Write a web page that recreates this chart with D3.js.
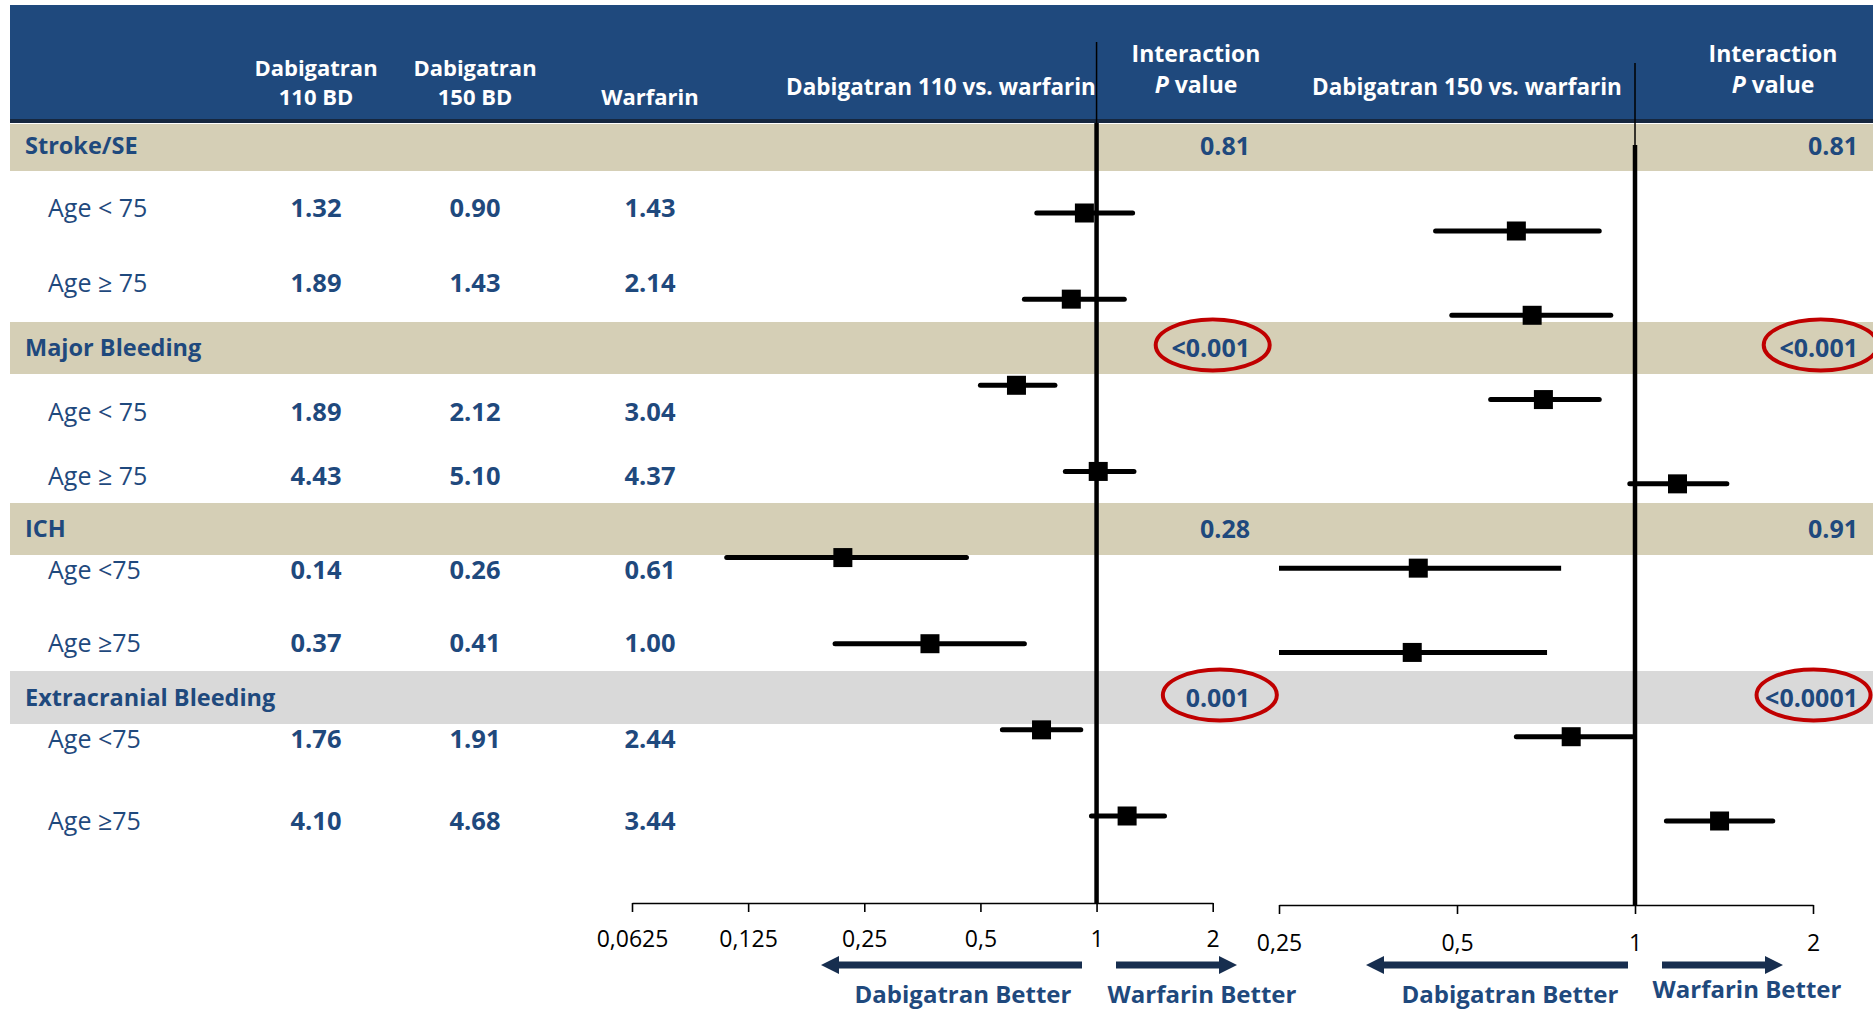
<!DOCTYPE html>
<html>
<head>
<meta charset="utf-8">
<script src="https://cdn.jsdelivr.net/npm/d3@7"></script>
<style>
  html, body { margin: 0; padding: 0; background: #ffffff; }
  svg { display: block; font-family: "Open Sans", "Noto Sans", sans-serif; }
</style>
</head>
<body>
<svg id="chart" width="1873" height="1011"></svg>
<script>
// ---- Data ----------------------------------------------------------------
const groups = ["Stroke/SE", "Major Bleeding", "ICH", "Extracranial Bleeding"];
const groupShade = ["tan", "tan", "tan", "grey"];
const pValues110 = ["0.81", "<0.001", "0.28", "0.001"];
const pValues150 = ["0.81", "<0.001", "0.91", "<0.0001"];
const flagged110 = [false, true, false, true];
const flagged150 = [false, true, false, true];

const subgroups = ["Age < 75", "Age \u2265 75", "Age < 75", "Age \u2265 75",
                   "Age <75", "Age \u226575", "Age <75", "Age \u226575"];
const rowGroup = [0, 0, 1, 1, 2, 2, 3, 3];

// event rates (%/year)
const rateDabi110 = ["1.32", "1.89", "1.89", "4.43", "0.14", "0.37", "1.76", "4.10"];
const rateDabi150 = ["0.90", "1.43", "2.12", "5.10", "0.26", "0.41", "1.91", "4.68"];
const rateWarfarin = ["1.43", "2.14", "3.04", "4.37", "0.61", "1.00", "2.44", "3.44"];

// hazard ratios with 95% CI
const hr110 = [0.93, 0.86, 0.62, 1.01, 0.22, 0.37, 0.72, 1.20];
const lo110 = [0.70, 0.65, 0.50, 0.83, 0.11, 0.21, 0.57, 0.97];
const hi110 = [1.24, 1.18, 0.78, 1.25, 0.46, 0.65, 0.91, 1.50];
const hr150 = [0.63, 0.67, 0.70, 1.18, 0.43, 0.42, 0.78, 1.39];
const lo150 = [0.46, 0.49, 0.57, 0.98, 0.25, 0.25, 0.63, 1.13];
const hi150 = [0.87, 0.91, 0.87, 1.43, 0.75, 0.71, 0.99, 1.71];

const ticks110 = [0.0625, 0.125, 0.25, 0.5, 1, 2];
const tickLabels110 = ["0,0625", "0,125", "0,25", "0,5", "1", "2"];
const ticks150 = [0.25, 0.5, 1, 2];
const tickLabels150 = ["0,25", "0,5", "1", "2"];

// ---- Layout --------------------------------------------------------------
const W = 1873;
const BLUE = "#1F497D";
const TEXT = "#1F497D";
const shadeColor = { tan: "#D5CFB6", grey: "#D9D9D9" };
const bandTop = [124, 322, 503, 671];
const bandBottom = [171, 374, 555, 724];
const groupLabelY = [145, 347, 528, 697];
const rowTextY = [207, 282, 411, 475, 569, 642, 738, 820];
const colX = [316, 475, 650];

const svg = d3.select("#chart");

// header
svg.append("rect").attr("x", 10).attr("y", 5).attr("width", W - 10).attr("height", 116).attr("fill", BLUE);
svg.append("rect").attr("x", 10).attr("y", 119).attr("width", W - 10).attr("height", 4).attr("fill", "#16273F");

// group bands
svg.append("g").selectAll("rect").data(groups).join("rect")
  .attr("x", 10).attr("y", (d, i) => bandTop[i])
  .attr("width", W - 10).attr("height", (d, i) => bandBottom[i] - bandTop[i])
  .attr("fill", (d, i) => shadeColor[groupShade[i]]);

// header text
const head = svg.append("g").attr("fill", "#ffffff").attr("font-weight", 700)
  .attr("font-size", 22).attr("text-anchor", "middle").attr("dominant-baseline", "central");
head.append("text").attr("x", colX[0]).attr("y", 67).text("Dabigatran");
head.append("text").attr("x", colX[0]).attr("y", 96).text("110 BD");
head.append("text").attr("x", colX[1]).attr("y", 67).text("Dabigatran");
head.append("text").attr("x", colX[1]).attr("y", 96).text("150 BD");
head.append("text").attr("x", colX[2]).attr("y", 96).text("Warfarin");
head.append("text").attr("x", 941).attr("y", 86).attr("font-size", 22.5).text("Dabigatran 110 vs. warfarin");
head.append("text").attr("x", 1467).attr("y", 86).attr("font-size", 22.5).text("Dabigatran 150 vs. warfarin");
[1196, 1773].forEach(cx => {
  head.append("text").attr("x", cx).attr("y", 53).attr("font-size", 23).text("Interaction");
  const t = head.append("text").attr("x", cx).attr("y", 84).attr("font-size", 23);
  t.append("tspan").attr("font-style", "italic").text("P");
  t.append("tspan").text(" value");
});

// group labels
svg.append("g").selectAll("text").data(groups).join("text")
  .attr("x", 25).attr("y", (d, i) => groupLabelY[i])
  .attr("dominant-baseline", "central").attr("font-size", 23.5).attr("font-weight", 700)
  .attr("fill", TEXT).text(d => d);

// subgroup rows
const rows = svg.append("g").attr("fill", TEXT).attr("font-size", 25).attr("dominant-baseline", "central");
rows.selectAll("text.lab").data(subgroups).join("text").attr("class", "lab")
  .attr("x", 48).attr("y", (d, i) => rowTextY[i]).text(d => d);
[rateDabi110, rateDabi150, rateWarfarin].forEach((col, c) => {
  rows.selectAll("text.c" + c).data(col).join("text").attr("class", "c" + c)
    .attr("x", colX[c]).attr("y", (d, i) => rowTextY[i])
    .attr("text-anchor", "middle").attr("font-weight", 700).attr("font-size", 25.5).text(d => d);
});

// interaction p values
function pColumn(values, flags, xRight) {
  const g = svg.append("g");
  values.forEach((v, i) => {
    const t = g.append("text").attr("x", xRight).attr("y", groupLabelY[i])
      .attr("text-anchor", "end").attr("dominant-baseline", "central")
      .attr("font-size", 25).attr("font-weight", 700).attr("fill", TEXT).text(v);
    if (flags[i]) {
      const b = t.node().getBBox();
      g.append("ellipse").attr("cx", b.x + b.width / 2 + 2).attr("cy", groupLabelY[i] - 2)
        .attr("rx", Math.max(57, b.width / 2 + 10)).attr("ry", 25.5)
        .attr("fill", "none").attr("stroke", "#C00000").attr("stroke-width", 4);
    }
  });
}
pColumn(pValues110, flagged110, 1250);
pColumn(pValues150, flagged150, 1858);

// ---- forest panels --------------------------------------------------------
function panel(opts) {
  const x = d3.scaleLog().base(2).domain(opts.domain).range(opts.range);
  const y = d3.scalePoint().domain(d3.range(8)).range(opts.rowRange);
  const g = svg.append("g");

  // axis
  const axis = d3.axisBottom(x).tickValues(opts.ticks)
    .tickFormat((d, i) => opts.tickLabels[i]).tickSize(9).tickSizeOuter(0);
  const ag = g.append("g").attr("transform", `translate(0,${opts.axisY})`).call(axis);
  ag.select(".domain").attr("stroke", "#000").attr("stroke-width", 1.6);
  ag.selectAll(".tick line").attr("stroke", "#000").attr("stroke-width", 1.6);
  ag.selectAll(".tick text").attr("font-family", "'Open Sans', sans-serif").attr("font-size", 23)
    .attr("fill", "#000").attr("y", opts.tickLabelDy).attr("dy", null).attr("dominant-baseline", "central");

  // line of no effect
  const x1 = x(1);
  g.append("line").attr("x1", x1).attr("x2", x1).attr("y1", opts.thinTop).attr("y2", opts.thickTop)
    .attr("stroke", "#000").attr("stroke-width", 1.5);
  g.append("line").attr("x1", x1).attr("x2", x1).attr("y1", opts.thickTop).attr("y2", opts.axisY)
    .attr("stroke", "#000").attr("stroke-width", 4.5);

  // confidence intervals
  const clampLo = v => Math.max(v, opts.domain[0]);
  g.selectAll("line.ci").data(opts.hr).join("line").attr("class", "ci")
    .attr("x1", (d, i) => x(clampLo(opts.lo[i])))
    .attr("x2", (d, i) => x(opts.hi[i]))
    .attr("y1", (d, i) => y(i)).attr("y2", (d, i) => y(i))
    .attr("stroke", "#000").attr("stroke-width", 5)
    .attr("stroke-linecap", (d, i) => opts.lo[i] <= opts.domain[0] ? "butt" : "round");

  // point estimates
  const s = 19;
  g.selectAll("rect.pt").data(opts.hr).join("rect").attr("class", "pt")
    .attr("x", d => x(d) - s / 2).attr("y", (d, i) => y(i) - s / 2)
    .attr("width", s).attr("height", s).attr("fill", "#000");

  // direction arrows
  const ay = 965, half = 3.5, head = 9, hl = 18;
  const arrow = (from, to) => {
    const dir = Math.sign(to - from);
    const base = to - dir * hl;
    return `M${from},${ay - half}L${base},${ay - half}L${base},${ay - head}L${to},${ay}` +
           `L${base},${ay + head}L${base},${ay + half}L${from},${ay + half}Z`;
  };
  g.append("path").attr("d", arrow(opts.leftArrow[0], opts.leftArrow[1])).attr("fill", "#172E4F");
  g.append("path").attr("d", arrow(opts.rightArrow[0], opts.rightArrow[1])).attr("fill", "#172E4F");
  g.append("text").attr("x", opts.leftLabel[0]).attr("y", opts.leftLabel[1])
    .attr("text-anchor", "middle").attr("dominant-baseline", "central")
    .attr("font-size", 24).attr("font-weight", 700).attr("fill", TEXT).text("Dabigatran Better");
  g.append("text").attr("x", opts.rightLabel[0]).attr("y", opts.rightLabel[1])
    .attr("text-anchor", "middle").attr("dominant-baseline", "central")
    .attr("font-size", 24).attr("font-weight", 700).attr("fill", TEXT).text("Warfarin Better");
}

panel({
  domain: [0.0625, 2], range: [632, 1212.7], rowRange: [213, 816],
  ticks: ticks110, tickLabels: tickLabels110,
  hr: hr110, lo: lo110, hi: hi110,
  axisY: 903, tickLabelDy: 35, thinTop: 42, thickTop: 123,
  leftArrow: [1082, 821], rightArrow: [1116, 1237],
  leftLabel: [963, 993], rightLabel: [1202, 993]
});

panel({
  domain: [0.25, 2], range: [1279, 1813], rowRange: [231, 821],
  ticks: ticks150, tickLabels: tickLabels150,
  hr: hr150, lo: lo150, hi: hi150,
  axisY: 905, tickLabelDy: 37, thinTop: 63, thickTop: 145,
  leftArrow: [1628, 1366], rightArrow: [1662, 1783],
  leftLabel: [1510, 993], rightLabel: [1747, 988]
});
</script>
</body>
</html>
